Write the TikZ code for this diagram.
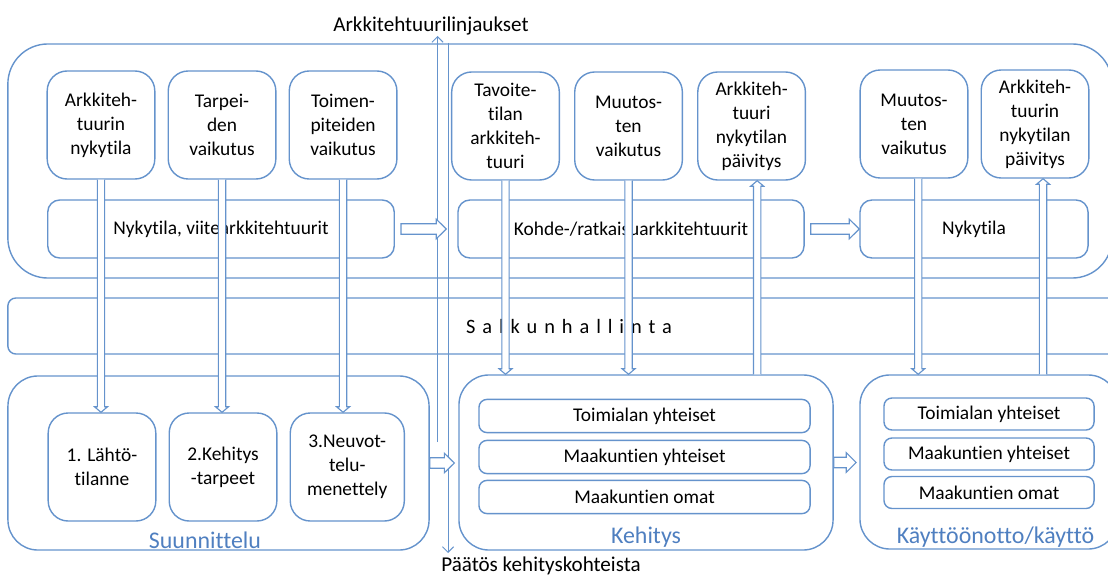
\documentclass[tikz,border=0pt]{standalone}
\usepackage{fontspec}
\setmainfont{Carlito}[Ligatures=CommonOff]
\usetikzlibrary{arrows.meta,positioning,calc}
\definecolor{boxline}{HTML}{6593CC}
\definecolor{phase}{HTML}{4F7FC0}
\newcommand{\boxfont}{\fontsize{13.8}{17.1}\selectfont}
% hollow block arrows: vertical (x from #1, y from #2 to #3) and horizontal
\newcommand{\vblock}[3]{%
  \draw[blockarr] let \p1=(#1), \p2=(#2), \p3=(#3), \n1={sign(\y3-\y2)*3.9} in
    (\x1-2.6pt,\y2) -- (\x1-2.6pt,{\y3-(\n1)*1pt}) -- (\x1-4.6pt,{\y3-(\n1)*1pt})
    -- (\x1,\y3) -- (\x1+4.6pt,{\y3-(\n1)*1pt}) -- (\x1+2.6pt,{\y3-(\n1)*1pt})
    -- (\x1+2.6pt,\y2);}
\newcommand{\hblock}[2]{%
  \draw[blockarr] let \p1=(#1), \p2=(#2) in
    (\x1,\y1+3.7pt) -- (\x2-7.1pt,\y1+3.7pt) -- (\x2-7.1pt,\y1+7pt) -- (\x2,\y1)
    -- (\x2-7.1pt,\y1-7pt) -- (\x2-7.1pt,\y1-3.7pt) -- (\x1,\y1-3.7pt) -- cycle;}
\tikzset{
  frame/.style={draw=boxline, line width=1pt, rounded corners=0.75cm, inner sep=0pt},
  itembox/.style={draw=boxline, line width=1pt, fill=white, rounded corners=0.5cm,
    align=center, minimum width=2.69cm, minimum height=2.7cm, font=\boxfont, inner sep=1pt},
  barbox/.style={draw=boxline, line width=1pt, fill=white, rounded corners=0.3cm,
    minimum height=1.45cm, font=\boxfont},
  rowbox/.style={draw=boxline, line width=1pt, fill=white, rounded corners=0.2cm,
    minimum width=8.275cm, minimum height=0.83cm, font=\boxfont, inner sep=0pt},
  phaselabel/.style={text=phase, font=\fontsize{17}{20}\selectfont, anchor=base, inner sep=0pt},
  note/.style={font=\fontsize{15}{18}\selectfont, anchor=base, inner sep=0pt},
  blockarr/.style={draw=boxline, fill=white, line width=0.8pt},
  thinarr/.style={draw=boxline, line width=0.7pt, -{Straight Barb[length=4pt, width=8pt]}}
}
\begin{document}
\begin{tikzpicture}[x=0.025cm, y=-0.025cm, node distance=0.3cm]
  \clip (0,0) rectangle (1108,577);
  % containers
  \node[frame, rounded corners=1cm, minimum width=27.6cm, minimum height=5.85cm] (arkk) at (560,161) {};
  \node[frame, rounded corners=0.2cm, minimum width=28.05cm, minimum height=1.4cm,
    font=\fontsize{14.5}{17}\selectfont\addfontfeature{LetterSpace=34}] (salkku) at (569,326) {Salkunhallinta};
  \node[frame, minimum width=10.525cm, minimum height=4.35cm] (suun) at (218.5,463) {};
  \node[frame, minimum width=9.35cm, minimum height=4.375cm] (keh) at (646,462.5) {};
  \node[frame, minimum width=6.45cm, minimum height=4.35cm] (kay) at (989,462) {};

  % nykytila ja viitearkkitehtuurit
  \node[itembox] (nyk) at (101,125) {Arkkiteh-\\tuurin\\nykytila};
  \node[itembox, right=of nyk] (tarp) {Tarpei-\\den\\vaikutus};
  \node[itembox, right=of tarp] (toim) {Toimen-\\piteiden\\vaikutus};
  \node[barbox, minimum width=8.66cm] (viite) at (221,229) {Nykytila, viitearkkitehtuurit};

  % kohdearkkitehtuurit
  \node[itembox] (tavo) at (505.5,126) {Tavoite-\\tilan\\arkkiteh-\\tuuri};
  \node[itembox, right=0.35cm of tavo] (muut) {Muutos-\\ten\\vaikutus};
  \node[itembox, right=0.35cm of muut] (paiv) {Arkkiteh-\\tuuri\\nykytilan\\päivitys};
  \node[barbox, minimum width=8.65cm] (kohde) at (631,229) {Kohde-/ratkaisuarkkitehtuurit};

  % nykytila
  \node[itembox] (muut2) at (914,124) {Muutos-\\ten\\vaikutus};
  \node[itembox, right=of muut2] (paiv2) {Arkkiteh-\\tuurin\\nykytilan\\päivitys};
  \node[barbox, minimum width=5.7cm] (nyky) at (974,229) {Nykytila};

  % suunnittelu
  \node[itembox] (lahto) at (102,467) {1. Lähtö-\\tilanne};
  \node[itembox, right=of lahto] (tarve) {2.Kehitys\\-tarpeet};
  \node[itembox, right=of tarve, minimum width=2.85cm] (neuv) {3.Neuvot-\\telu-\\menettely};

  % kehitys ja kayttoonotto
  \node[rowbox] (toim1) at (644.5,416) {Toimialan yhteiset};
  \node[rowbox] (maak1) at (644.5,457) {Maakuntien yhteiset};
  \node[rowbox] (oma1) at (644.5,497) {Maakuntien omat};
  \node[rowbox, minimum width=5.25cm, minimum height=0.8cm] (toim2) at (989,414) {Toimialan yhteiset};
  \node[rowbox, minimum width=5.25cm, minimum height=0.8cm] (maak2) at (989,454) {Maakuntien yhteiset};
  \node[rowbox, minimum width=5.25cm, minimum height=0.8cm] (oma2) at (989,492.5) {Maakuntien omat};

  \node[phaselabel] (suunlbl) at (205,548) {Suunnittelu};
  \node[phaselabel] (kehlbl) at (646,543) {Kehitys};
  \node[phaselabel] (kaylbl) at (995.5,543) {Käyttöönotto/käyttö};

  \node[note] (linj) at (431,31.5) {Arkkitehtuurilinjaukset};
  \node[note] (paatos) at (541,571) {Päätös kehityskohteista};

  % linjaukset ja paatos
  \coordinate (linjalku) at (437.5,442);
  \coordinate (linjkarki) at (437.5,36);
  \coordinate (paatalku) at (448,43);
  \coordinate (paatkarki) at (448,553);
  \draw[thinarr] (linjalku) -- (linjkarki);
  \draw[thinarr] (paatalku) -- (paatkarki);

  % vertical block arrows
  \vblock{nyk.south}{nyk.south}{lahto.north}
  \vblock{tarp.south}{tarp.south}{tarve.north}
  \vblock{toim.south}{toim.south}{neuv.north}
  \vblock{tavo.south}{tavo.south}{keh.north}
  \vblock{muut.south}{muut.south}{keh.north}
  \vblock{$(paiv.south)+(4pt,0)$}{keh.north}{paiv.south}
  \vblock{$(muut2.south)+(3pt,0)$}{muut2.south}{kay.north}
  \vblock{$(paiv2.south)+(5.7pt,0)$}{kay.north}{paiv2.south}

  % horizontal block arrows
  \hblock{$(viite.east)+(4.3pt,0)$}{$(kohde.west)+(-7.8pt,0)$}
  \hblock{$(kohde.east)+(4.3pt,0)$}{nyky.west}
  \hblock{suun.east}{$(keh.west)+(-2.8pt,0)$}
  \hblock{keh.east}{$(kay.west)+(-2.2pt,0)$}
\end{tikzpicture}
\end{document}
